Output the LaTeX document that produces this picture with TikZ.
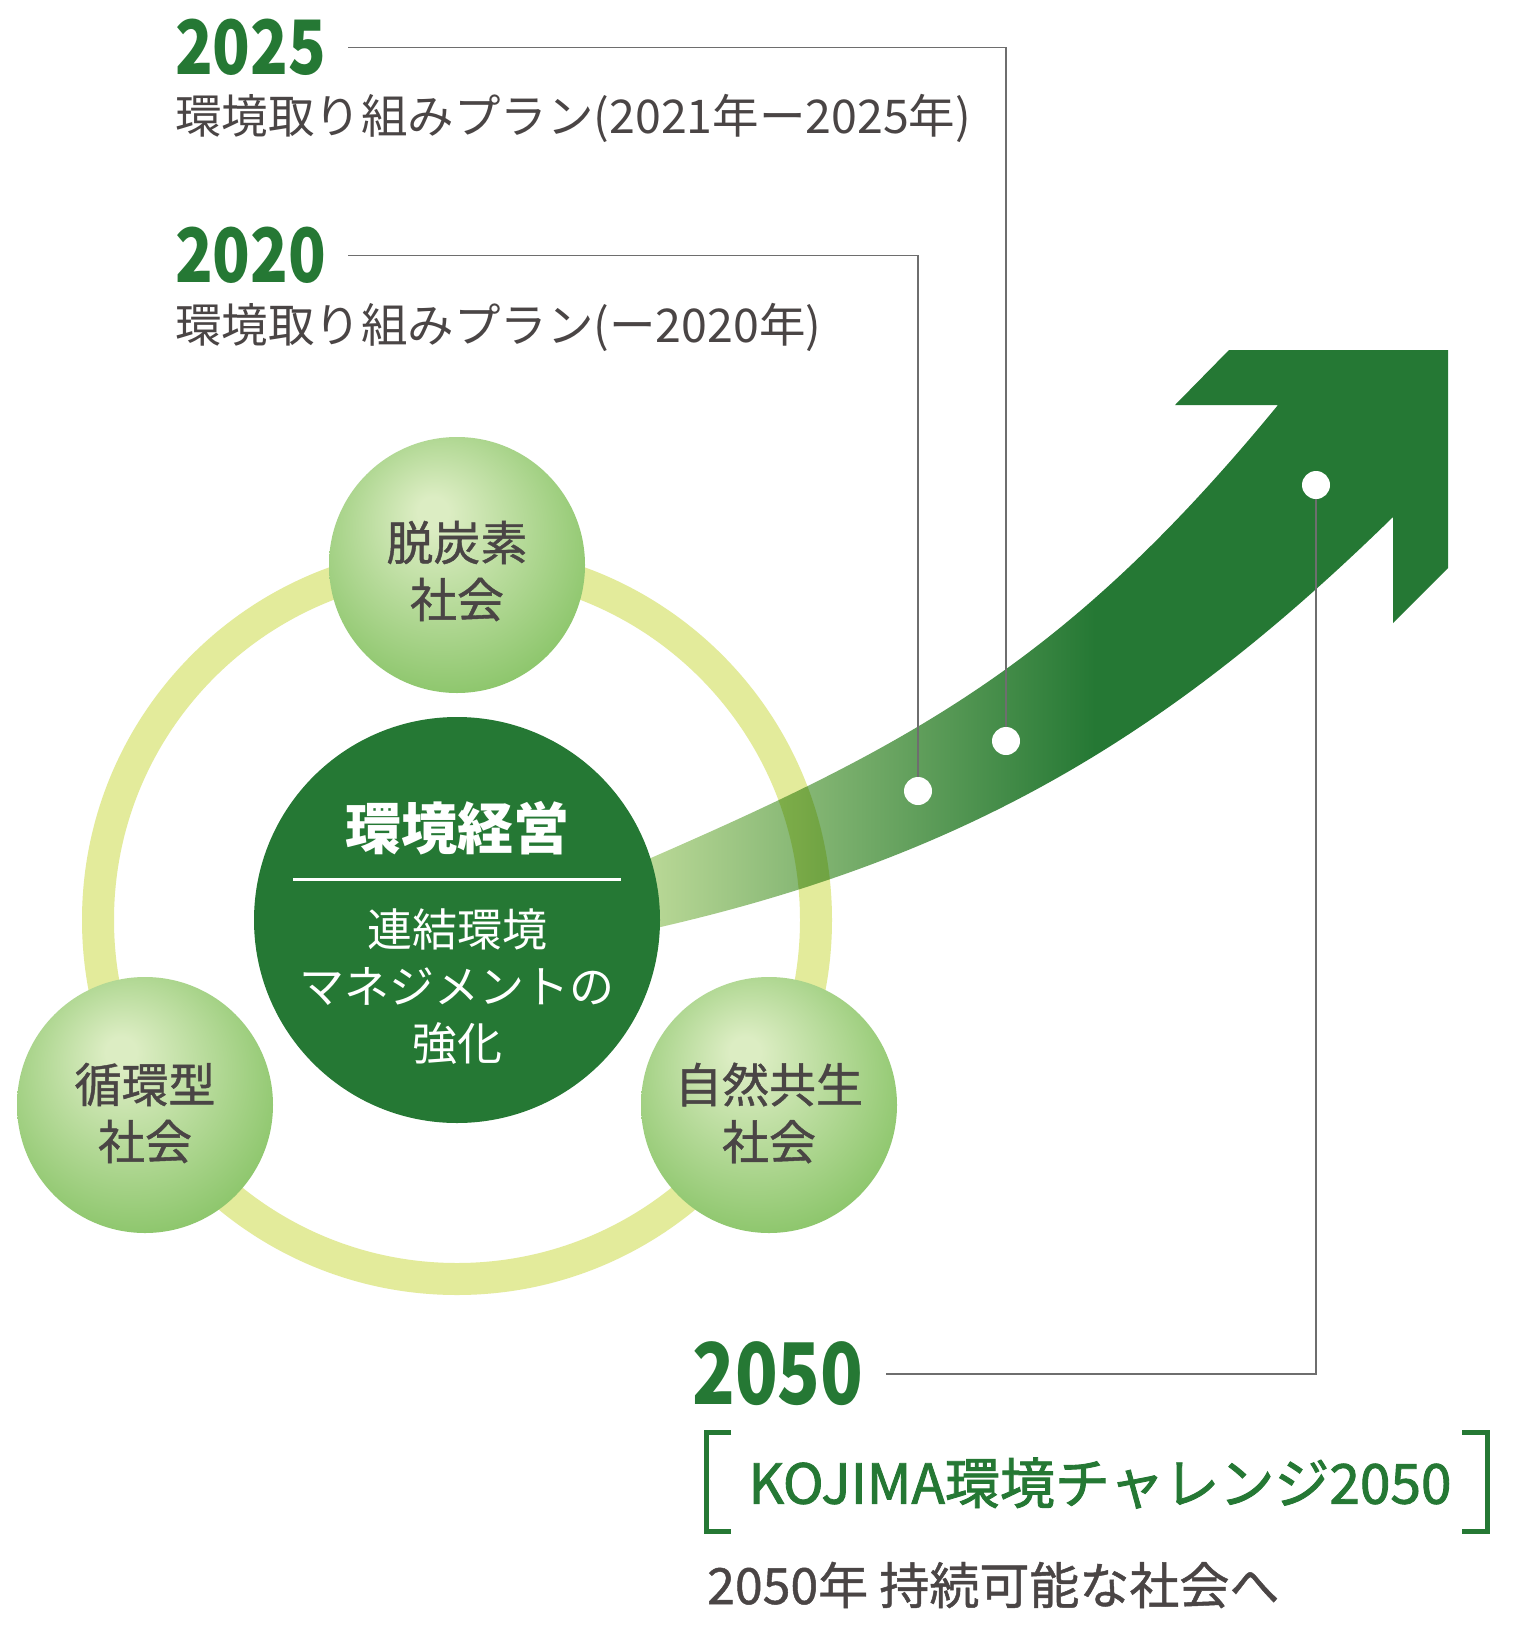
\documentclass[tikz,border=0pt]{standalone}
\usepackage{fontspec}
\setmainfont{Noto Sans CJK JP}
\newfontfamily\jpmedium[FakeBold=0.9]{Noto Sans CJK JP}
\newfontfamily\jpsemi[FakeBold=1.6]{Noto Sans CJK JP}
\usepackage{graphicx}
\definecolor{dg}{HTML}{257834}
\definecolor{shaftlight}{HTML}{BCDA98}
\definecolor{ringc}{HTML}{E3EB9B}
\definecolor{ballin}{HTML}{DCEDC3}
\definecolor{ballout}{HTML}{8DC66C}
\definecolor{txtgray}{HTML}{4A4545}
\definecolor{leadgray}{HTML}{6E6E6E}
\pgfdeclarehorizontalshading{shaftshade}{100bp}{color(0bp)=(shaftlight); color(27.4bp)=(shaftlight); color(54.2bp)=(dg); color(100bp)=(dg)}
\pgfdeclareradialshading{ballshade}{\pgfpoint{-5bp}{11bp}}{color(0bp)=(ballin); color(3bp)=(ballin); color(30bp)=(ballout); color(50bp)=(ballout)}
\newcommand\yearsq[1]{\scalebox{0.827}[1]{#1}}
\begin{document}
\begin{tikzpicture}[x=1pt,y=-1pt,
  ringline/.style={draw=ringc, line width=32pt},
  maincirc/.style={circle, fill=dg, minimum size=406pt, inner sep=0pt},
  ball/.style={circle, shading=ballshade, minimum size=256pt, inner sep=0pt},
  balltext/.style={text=txtgray, align=center, inner sep=0pt, font=\fontsize{47}{57}\jpmedium},
  titletext/.style={text=white, inner sep=0pt, font=\fontsize{56}{60}\bfseries\selectfont},
  subtext/.style={text=white, inner sep=0pt, align=center, font=\fontsize{45}{57}\selectfont},
  yearnum/.style={text=dg, inner sep=0pt, anchor=west, font=\fontsize{75}{80}\bfseries\selectfont},
  yearbig/.style={text=dg, inner sep=0pt, anchor=west, font=\fontsize{85}{90}\bfseries\selectfont},
  subtitle/.style={text=txtgray, inner sep=0pt, anchor=west, font=\fontsize{46.5}{50}\selectfont},
  leader/.style={draw=leadgray, line width=1.5pt},
  dotnode/.style={circle, fill=white, minimum size=28pt, inner sep=0pt},
  bracketline/.style={draw=dg, line width=5pt, miter limit=10},
  kojima/.style={text=dg, inner sep=0pt, font=\fontsize{55}{58}\jpsemi},
  goaltext/.style={text=txtgray, inner sep=0pt, anchor=west, font=\fontsize{50}{54}\jpmedium}
]
\useasboundingbox (0,0) rectangle (1524,1627);
\fill[white] (0,0) rectangle (1524,1627);

% ring
\draw[ringline] (457,920) circle[radius=359];

% arrow shaft
\begin{scope}[blend mode=multiply]
\shade[shading=shaftshade] (600,880) .. controls (900,751) and (1058,673) .. (1278,405)
  -- (1175,405) -- (1229,350) -- (1448,350) -- (1448,568) -- (1393,623) -- (1393,517)
  .. controls (1163,742) and (950,870) .. (600,940) -- cycle;
\end{scope}

% central circle
\node[maincirc] (main) at (457,920) {};
\node[titletext] (title) at (457,828) {環境経営};
\coordinate (rulel) at (293,879);
\coordinate (ruler) at (621,879);
\draw[white, line width=3pt] (rulel) -- (ruler);
\node[subtext] (sub) at (457,987) {連結環境\\マネジメントの\\強化};

% balls
\node[ball] (b1) at (457,565) {};
\node[balltext] (b1t) at (457,571) {脱炭素\\社会};
\node[ball] (b2) at (145,1105) {};
\node[balltext] (b2t) at (145,1113) {循環型\\社会};
\node[ball] (b3) at (769,1105) {};
\node[balltext] (b3t) at (769,1113) {自然共生\\社会};

% labels
\node[yearnum] (y2025) at (175,47.5) {\yearsq{2025}};
\node[subtitle] (p2025) at (175,118) {環境取り組みプラン(2021年ー2025年)};
\node[yearnum] (y2020) at (175,255.5) {\yearsq{2020}};
\node[subtitle] (p2020) at (175,327) {環境取り組みプラン(ー2020年)};
\node[yearbig] (y2050) at (692,1374) {\yearsq{2050}};

% dots
\node[dotnode] (d2020) at (918,791) {};
\node[dotnode] (d2025) at (1006,741) {};
\node[dotnode] (d2050) at (1316,485) {};

% leaders
\draw[leader] ([xshift=22pt]y2025.east) -| (d2025.north);
\draw[leader] ([xshift=22pt]y2020.east) -| (d2020.north);
\draw[leader] (d2050.south) |- ([xshift=22pt]y2050.east);

% brackets
\coordinate (lbt) at (731,1432);
\coordinate (lbtc) at (706,1432);
\coordinate (lbbc) at (706,1531);
\coordinate (lbb) at (731,1531);
\coordinate (rbt) at (1462,1432);
\coordinate (rbtc) at (1487,1432);
\coordinate (rbbc) at (1487,1531);
\coordinate (rbb) at (1462,1531);
\draw[bracketline] (lbt) -- (lbtc) -- (lbbc) -- (lbb);
\draw[bracketline] (rbt) -- (rbtc) -- (rbbc) -- (rbb);

\node[kojima] (kj) at (1100,1483) {KOJIMA環境チャレンジ2050};
\node[goaltext] (goal) at (707,1585) {2050年 持続可能な社会へ};
\end{tikzpicture}
\end{document}
